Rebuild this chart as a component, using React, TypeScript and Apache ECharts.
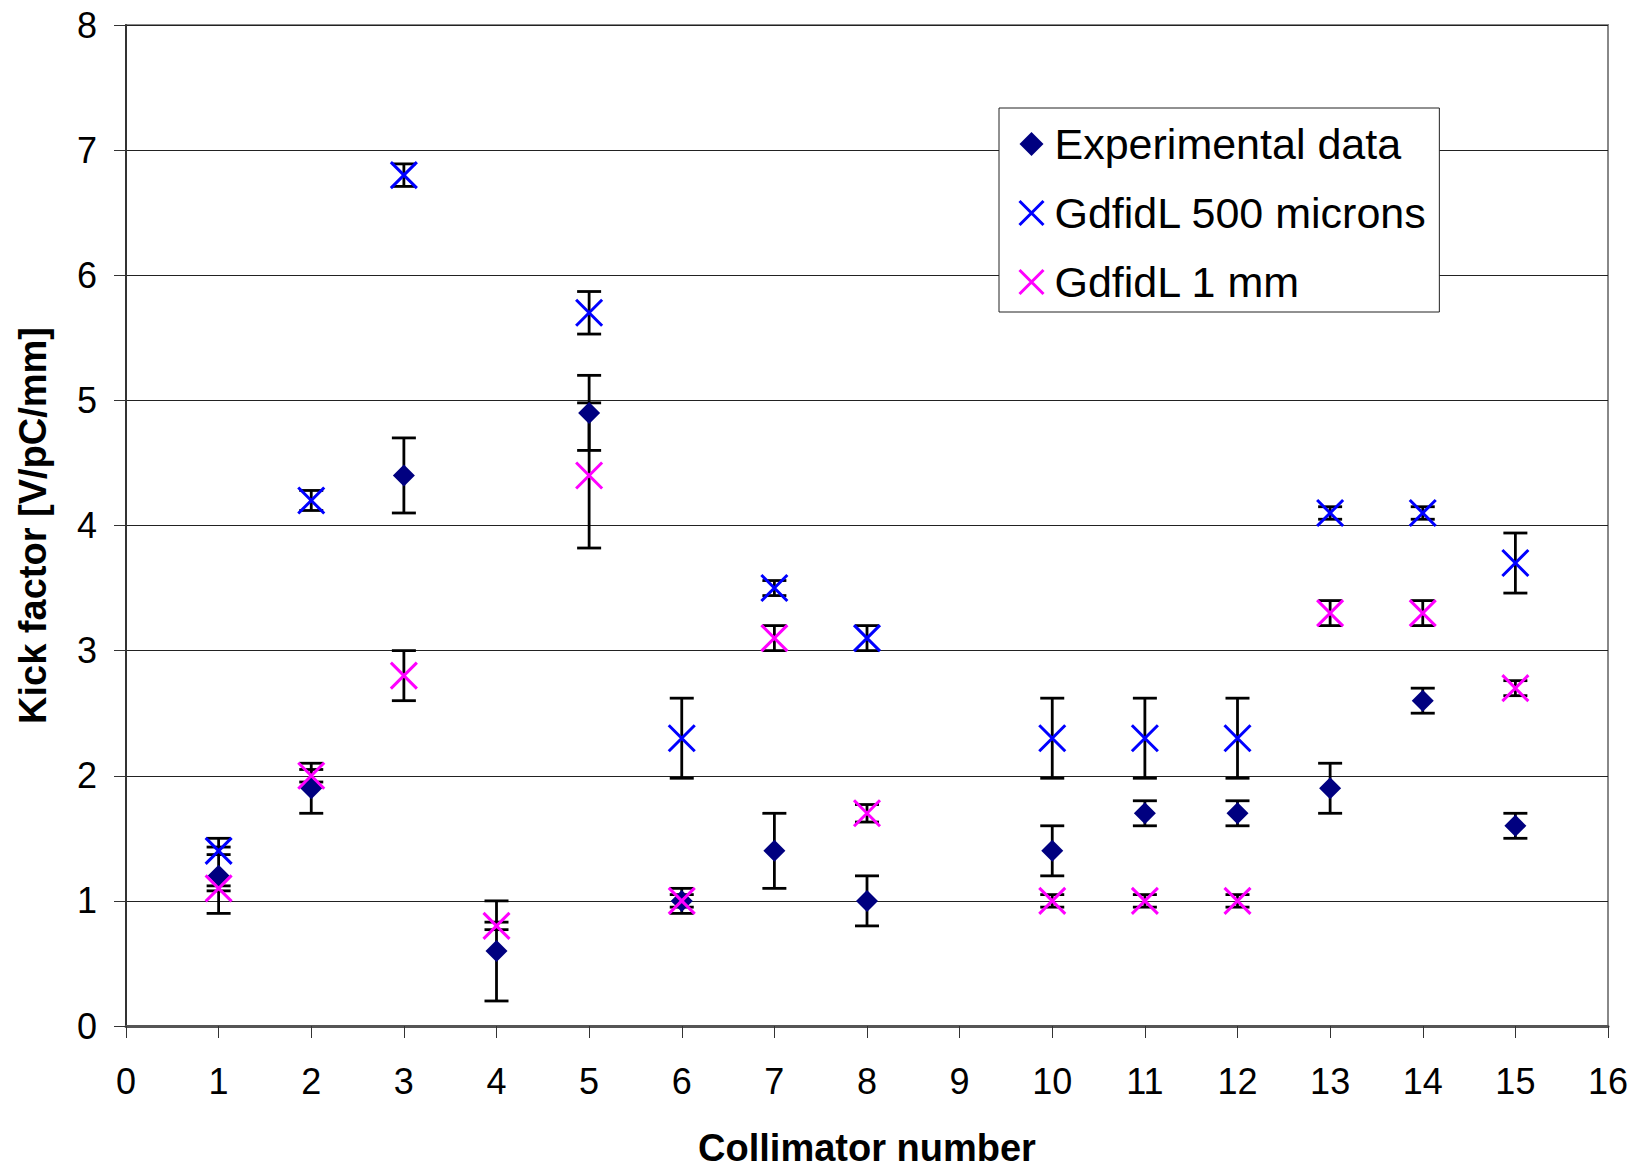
import React, { useEffect, useRef } from "react";
import * as echarts from "echarts";

// ---- Data ----
const xTicks = [0, 1, 2, 3, 4, 5, 6, 7, 8, 9, 10, 11, 12, 13, 14, 15, 16];

const expCollimators = [1, 2, 3, 4, 5, 6, 7, 8, 10, 11, 12, 13, 14, 15];
const expValues = [1.2, 1.9, 4.4, 0.6, 4.9, 1.0, 1.4, 1.0, 1.4, 1.7, 1.7, 1.9, 2.6, 1.6];
const expErrors = [0.3, 0.2, 0.3, 0.4, 0.3, 0.1, 0.3, 0.2, 0.2, 0.1, 0.1, 0.2, 0.1, 0.1];

const g500Collimators = [1, 2, 3, 5, 6, 7, 8, 10, 11, 12, 13, 14, 15];
const g500Values = [1.4, 4.2, 6.8, 5.7, 2.3, 3.5, 3.1, 2.3, 2.3, 2.3, 4.1, 4.1, 3.7];
const g500Errors = [0.03, 0.08, 0.09, 0.17, 0.32, 0.06, 0.1, 0.32, 0.32, 0.32, 0.05, 0.05, 0.24];

const g1mmCollimators = [1, 2, 3, 4, 5, 6, 7, 8, 10, 11, 12, 13, 14, 15];
const g1mmValues = [1.1, 2.0, 2.8, 0.8, 4.4, 1.0, 3.1, 1.7, 1.0, 1.0, 1.0, 3.3, 3.3, 2.7];
const g1mmErrors = [0.02, 0.05, 0.2, 0.03, 0.58, 0.05, 0.1, 0.07, 0.05, 0.05, 0.05, 0.1, 0.1, 0.06];

const seriesNames = ["Experimental data", "GdfidL 500 microns", "GdfidL 1 mm"];

const FONT = "'Liberation Sans', Arial, sans-serif";
const X_SYMBOL = "path://M0,0L20,20M20,0L0,20";

function points(xs: number[], ys: number[]) {
  return xs.map((x, i) => [x, ys[i]]);
}
function bars(xs: number[], ys: number[], es: number[]) {
  return xs.map((x, i) => [x, ys[i] - es[i], ys[i] + es[i]]);
}

const errorBarRender = (params: any, api: any) => {
  const x = api.value(0);
  const lo = api.coord([x, api.value(1)]);
  const hi = api.coord([x, api.value(2)]);
  const w = 12;
  const style = { stroke: "#000", lineWidth: 2.8 };
  return {
    type: "group",
    children: [
      { type: "line", shape: { x1: lo[0], y1: lo[1], x2: hi[0], y2: hi[1] }, style },
      { type: "line", shape: { x1: lo[0] - w, y1: lo[1], x2: lo[0] + w, y2: lo[1] }, style },
      { type: "line", shape: { x1: hi[0] - w, y1: hi[1], x2: hi[0] + w, y2: hi[1] }, style },
    ],
  };
};

export default function App() {
  const ref = useRef<HTMLDivElement>(null);

  useEffect(() => {
    if (!ref.current) return;
    const chart = echarts.init(ref.current, null, { renderer: "svg" });
    const allBars = [
      ...bars(expCollimators, expValues, expErrors),
      ...bars(g500Collimators, g500Values, g500Errors),
      ...bars(g1mmCollimators, g1mmValues, g1mmErrors),
    ];
    chart.setOption({
      animation: false,
      backgroundColor: "#fff",
      textStyle: { fontFamily: FONT, color: "#000" },
      grid: {
        left: 126,
        top: 25,
        right: 30,
        bottom: 143,
        show: true,
        borderColor: "#888",
        borderWidth: 2,
        backgroundColor: "transparent",
      },
      legend: {
        orient: "vertical",
        left: 999,
        top: 108,
        backgroundColor: "#fff",
        borderColor: "#222",
        borderWidth: 1,
        borderRadius: 0,
        padding: [12, 12, 6, 19],
        itemWidth: 24,
        itemHeight: 24,
        itemGap: 21,
        textStyle: { fontFamily: FONT, fontSize: 43, color: "#000", lineHeight: 48, padding: [0, 0, 0, 6] },
        data: [
          { name: seriesNames[0], icon: "diamond", itemStyle: { color: "#000080", opacity: 1 } },
          { name: seriesNames[1], itemStyle: { borderWidth: 3, opacity: 1 } },
          { name: seriesNames[2], itemStyle: { borderWidth: 3, opacity: 1 } },
        ],
      },
      xAxis: {
        type: "value",
        min: xTicks[0],
        max: xTicks[xTicks.length - 1],
        interval: 1,
        name: "Collimator number",
        nameLocation: "middle",
        nameGap: 102,
        nameTextStyle: { fontFamily: FONT, fontSize: 38, fontWeight: "bold", color: "#000", lineHeight: 40 },
        axisLine: { show: true, onZero: false, lineStyle: { color: "#555", width: 3 } },
        axisTick: { show: true, inside: false, length: 12, lineStyle: { color: "#333", width: 1 } },
        axisLabel: { fontSize: 36, color: "#000", margin: 37, fontFamily: FONT },
        splitLine: { show: false },
      },
      yAxis: {
        type: "value",
        min: 0,
        max: 8,
        interval: 1,
        name: "Kick factor [V/pC/mm]",
        nameLocation: "middle",
        nameGap: 73,
        nameTextStyle: { fontFamily: FONT, fontSize: 38, fontWeight: "bold", color: "#000", lineHeight: 40 },
        axisLine: { show: true, onZero: false, lineStyle: { color: "#333", width: 2 } },
        axisTick: { show: true, inside: false, length: 12, lineStyle: { color: "#333", width: 1 } },
        axisLabel: { fontSize: 36, color: "#000", margin: 29, fontFamily: FONT },
        splitLine: { show: true, lineStyle: { color: "#222", width: 1.2 } },
      },
      series: [
        {
          type: "custom",
          name: "errors",
          renderItem: errorBarRender,
          data: allBars,
          encode: { x: 0, y: [1, 2] },
          z: 2,
          silent: true,
        },
        {
          type: "scatter",
          name: seriesNames[0],
          data: points(expCollimators, expValues),
          symbol: "diamond",
          symbolSize: 22,
          itemStyle: { color: "#000080", opacity: 1 },
          z: 3,
        },
        {
          type: "scatter",
          name: seriesNames[1],
          data: points(g500Collimators, g500Values),
          symbol: X_SYMBOL,
          symbolSize: 26,
          itemStyle: { color: "#0000ff", borderColor: "#0000ff", borderWidth: 3, opacity: 1 },
          z: 4,
        },
        {
          type: "scatter",
          name: seriesNames[2],
          data: points(g1mmCollimators, g1mmValues),
          symbol: X_SYMBOL,
          symbolSize: 26,
          itemStyle: { color: "#ff00ff", borderColor: "#ff00ff", borderWidth: 3, opacity: 1 },
          z: 5,
        },
      ],
    });
    return () => chart.dispose();
  }, []);

  return (
    <div
      ref={ref}
      style={{ position: "absolute", left: 0, top: 0, width: 1638, height: 1173 }}
    />
  );
}
